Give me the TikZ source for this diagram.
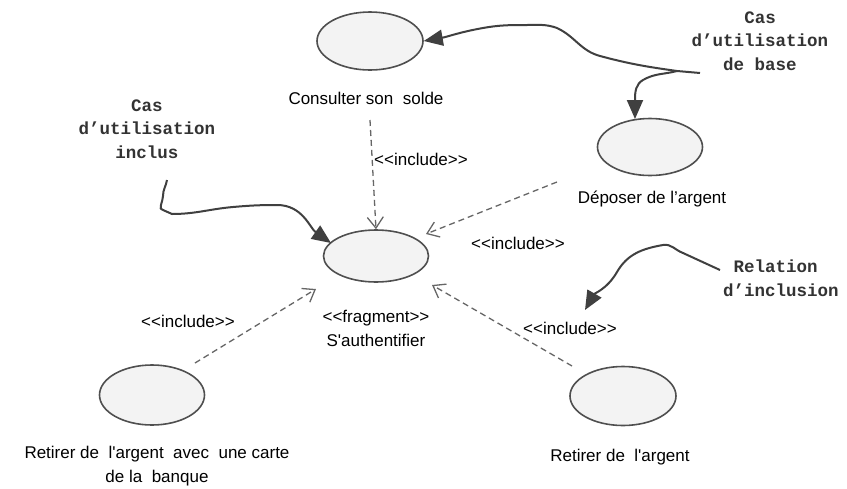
\documentclass[tikz,border=0pt]{standalone}
\usepackage{fontspec}
\setmainfont{Liberation Sans}[Ligatures=TeXOff]
\newfontfamily\monof{Liberation Mono}[Ligatures=TeXOff]
\usetikzlibrary{arrows.meta,shapes.geometric,calc}
\definecolor{ucfill}{HTML}{F3F3F3}
\definecolor{ucline}{HTML}{4F4F4F}
\definecolor{darkarr}{HTML}{404040}
\definecolor{dasharr}{HTML}{666666}
\tikzset{
  uc/.style={ellipse, draw=ucline, fill=ucfill, line width=1.6pt, inner sep=0pt},
  lbl/.style={font=\fontsize{17}{20}\selectfont, align=center, inner sep=1pt},
  note/.style={font=\monof\bfseries\fontsize{17.5}{23.5}\selectfont, align=center, text=black!80, inner sep=1pt},
  pointer/.style={draw=darkarr, line width=2pt, -{Triangle[length=19pt,width=16pt]}, line join=round},
  incl/.style={draw=dasharr, line width=1.3pt, dash pattern=on 6pt off 4pt, -{Straight Barb[length=11pt,width=16pt,line width=1.3pt]}}
}
\begin{document}
\begin{tikzpicture}[x=1pt,y=-1pt]
\useasboundingbox (0,0) rectangle (847,488);
% use cases
\node[uc, minimum width=106pt, minimum height=58pt] (consult) at (370,41) {};
\node[uc, minimum width=105pt, minimum height=57pt] (depot) at (650,147) {};
\node[uc, minimum width=105pt, minimum height=52pt] (auth) at (376,256) {};
\node[uc, minimum width=105pt, minimum height=60pt] (carte) at (152,395) {};
\node[uc, minimum width=106pt, minimum height=59pt] (retrait) at (623,396) {};
% labels
\node[lbl] (lconsult) at (366,98) {Consulter son\ \ solde};
\node[lbl] (ldepot) at (652,199) {Déposer de l’argent};
\node[lbl] (lauth) at (376,328) {<<fragment>>\\[4pt]S'authentifier};
\node[lbl] (lcarte) at (157,466) {Retirer de\ \ l'argent\ \ avec\ \ une carte\\[4pt]de la\ \ banque};
\node[lbl] (lretrait) at (620,457) {Retirer de\ \ l'argent};
\node[lbl, anchor=west] (i1) at (373,159) {<<include>>};
\node[lbl] (i2) at (518,243) {<<include>>};
\node[lbl] (i3) at (188,321) {<<include>>};
\node[lbl] (i4) at (570,328) {<<include>>};
% notes
\node[note] (nbase) at (760,41) {Cas\\d’utilisation\\de base};
\node[note] (nincl) at (147,129) {Cas\\d’utilisation\\inclus};
\node[note, align=left, anchor=west] (nrel) at (722,278) {\hspace{0.6em}Relation\\d’inclusion};
% include relations
\coordinate (s1) at (370,120);
\coordinate (s2) at (557,182);
\coordinate (s3) at (195,363);
\coordinate (s4) at (572,366);
\draw[incl] (s1) -- (auth.north);
\draw[incl] (s2) -- ($(auth.center)+(50,-22)$);
\draw[incl] (s3) -- ($(auth.center)+(-60,33)$);
\draw[incl] (s4) -- ($(auth.center)+(56,29)$);
% pointers
\coordinate (b0) at (700,73);
\coordinate (b1) at (677,71);
\coordinate (b2) at (557,28);
\coordinate (b3) at (643,80);
\draw[pointer] (b0) -- (b1) to[out=172,in=-15] (600,56) to[out=165,in=-25] (b2)
  to[out=160,in=0] (527,25) to[out=180,in=10] (483,28) to[out=190,in=10] (consult.east);
\draw[pointer] (b1) to[out=195,in=30] (b3) to[out=210,in=90] (635,100) -- (635,119);
\coordinate (c0) at (167,180);
\coordinate (c1) at (163,210);
\coordinate (c2) at (277,205);
\draw[pointer] (c0) to[out=260,in=90] (163,196) to[out=270,in=180] (c1) -- (172,214)
  to[out=0,in=185] (233,207) to[out=5,in=180] (c2) to[out=0,in=145] (331,243);
\coordinate (r0) at (720,270);
\coordinate (r1) at (683,253);
\draw[pointer] (r0) -- (r1) to[out=160,in=10] (663,245) to[out=190,in=60] (617,272)
  to[out=240,in=60] (585,310);
\end{tikzpicture}
\end{document}
